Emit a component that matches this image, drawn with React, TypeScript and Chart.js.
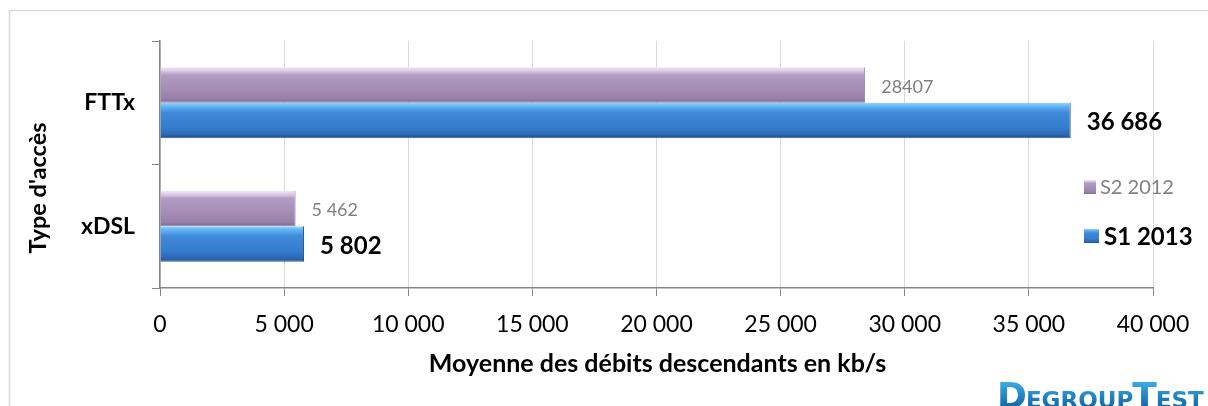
import React, { useEffect, useRef } from "react";
import { Chart, registerables } from "chart.js";

Chart.register(...registerables);

// ---- data ----
const categories = ["FTTx", "xDSL"];
const seriesNames = ["S2 2012", "S1 2013"];
const valuesS2_2012 = [28407, 5462];
const valuesS1_2013 = [36686, 5802];
const labelsS2_2012 = ["28407", "5 462"];
const labelsS1_2013 = ["36 686", "5 802"];
const xMin = 0;
const xMax = 40000;
const xStep = 5000;
const xTitle = "Moyenne des débits descendants en kb/s";
const yTitle = "Type d'accès";
const logoParts = [
  { t: "D", big: true },
  { t: "EGROUP", big: false },
  { t: "T", big: true },
  { t: "EST", big: false },
];

const F = "Lato, 'Open Sans', sans-serif";

const purpleStops: [number, string][] = [
  [0, "#f1e6f6"],
  [0.1, "#dccbe6"],
  [0.22, "#b29cc3"],
  [0.6, "#a58db6"],
  [0.88, "#9880aa"],
  [1, "#7c6890"],
];
const blueStops: [number, string][] = [
  [0, "#92d3ff"],
  [0.1, "#62b4f3"],
  [0.28, "#3f8ad9"],
  [0.7, "#357dce"],
  [0.9, "#2c67b3"],
  [1, "#1f4d86"],
];

function makeGrad(ctx: CanvasRenderingContext2D, top: number, bottom: number, stops: [number, string][]) {
  const g = ctx.createLinearGradient(0, top, 0, bottom);
  stops.forEach(([p, c]) => g.addColorStop(p, c));
  return g;
}

const CAT_PCT = 0.575;

function barFill(stops: [number, string][], di: number) {
  return (c: any) => {
    const chart = c.chart;
    const y = chart.scales?.y;
    if (!y || !chart.chartArea) return stops[2][1];
    const center = y.getPixelForValue(c.dataIndex);
    const catH = y.height / categories.length;
    const barH = (catH * CAT_PCT) / 2;
    const top = di === 0 ? center - barH : center;
    return makeGrad(chart.ctx, top, top + barH, stops);
  };
}

const fmt = (v: number) => String(v).replace(/\B(?=(\d{3})+(?!\d))/g, " ");

export default function App() {
  const ref = useRef<HTMLCanvasElement>(null);

  useEffect(() => {
    const canvas = ref.current!;
    const framePlugin = {
      id: "frame",
      beforeDraw(chart: any) {
        const ctx = chart.ctx;
        ctx.save();
        ctx.fillStyle = "#ffffff";
        ctx.fillRect(0, 0, chart.width, chart.height);
        ctx.strokeStyle = "#d9d9d9";
        ctx.lineWidth = 1.5;
        ctx.beginPath();
        ctx.moveTo(9.5, chart.height + 5);
        ctx.lineTo(9.5, 10.5);
        ctx.lineTo(chart.width + 5, 10.5);
        ctx.stroke();
        ctx.restore();
      },
    };

    const labelPlugin = {
      id: "valueLabels",
      afterDatasetsDraw(chart: any) {
        const ctx = chart.ctx;
        const sets = [labelsS2_2012, labelsS1_2013];
        ctx.save();
        chart.data.datasets.forEach((_: any, di: number) => {
          const meta = chart.getDatasetMeta(di);
          meta.data.forEach((bar: any, i: number) => {
            ctx.font = di === 0 ? `18px ${F}` : `bold 24px ${F}`;
            ctx.fillStyle = di === 0 ? "#808080" : "#000000";
            ctx.textAlign = "left";
            ctx.textBaseline = "middle";
            ctx.fillText(sets[di][i], bar.x + 16, bar.y + 2);
          });
        });
        ctx.restore();
      },
    };

    const overlayPlugin = {
      id: "overlay",
      afterDraw(chart: any) {
        const ctx = chart.ctx;
        const area = chart.chartArea;
        ctx.save();
        // x title
        ctx.fillStyle = "#000";
        ctx.font = `bold 25px ${F}`;
        ctx.textAlign = "center";
        ctx.textBaseline = "middle";
        ctx.fillText(xTitle, (area.left + area.right) / 2 + 1, 364);
        // y title
        ctx.save();
        ctx.translate(38, 188);
        ctx.rotate(-Math.PI / 2);
        ctx.font = `bold 23.5px ${F}`;
        ctx.fillText(yTitle, 0, 0);
        ctx.restore();
        // legend
        const legendItems = [
          { name: seriesNames[0], stops: purpleStops, y: 187, mx: 1084, mw: 12, tx: 1100, font: `20px ${F}`, color: "#808080" },
          { name: seriesNames[1], stops: blueStops, y: 236, mx: 1084, mw: 15, tx: 1104, font: `bold 24px ${F}`, color: "#000" },
        ];
        legendItems.forEach((it) => {
          const top = it.y - 7;
          ctx.fillStyle = makeGrad(ctx, top, top + 14, it.stops);
          ctx.fillRect(it.mx, top, it.mw, 14);
          ctx.font = it.font;
          ctx.fillStyle = it.color;
          ctx.textAlign = "left";
          ctx.textBaseline = "middle";
          ctx.fillText(it.name, it.tx, it.y + 1);
        });
        // logo
        const lg = ctx.createLinearGradient(0, 380, 0, 410);
        lg.addColorStop(0, "#3fb0ea");
        lg.addColorStop(1, "#0b5fa3");
        ctx.fillStyle = lg;
        ctx.textBaseline = "alphabetic";
        ctx.textAlign = "left";
        ctx.save();
        ctx.translate(997, 0);
        let x = 0;
        logoParts.forEach((p) => {
          ctx.font = p.big ? `bold 36px 'DejaVu Sans', sans-serif` : `bold 23px 'DejaVu Sans', sans-serif`;
          ctx.fillText(p.t, x, 408);
          x += ctx.measureText(p.t).width - 1;
        });
        ctx.restore();
        ctx.restore();
      },
    };

    const chart = new Chart(canvas, {
      type: "bar",
      data: {
        labels: categories,
        datasets: [
          {
            label: seriesNames[0],
            data: valuesS2_2012,
            backgroundColor: barFill(purpleStops, 0) as any,
            borderColor: "#8d779e",
            borderWidth: { top: 0, right: 1, bottom: 1, left: 0 } as any,
            borderSkipped: false,
          },
          {
            label: seriesNames[1],
            data: valuesS1_2013,
            backgroundColor: barFill(blueStops, 1) as any,
            borderColor: "#25558f",
            borderWidth: { top: 0, right: 1, bottom: 1, left: 0 } as any,
            borderSkipped: false,
          },
        ],
      },
      options: {
        responsive: false,
        animation: false,
        indexAxis: "y",
        layout: { padding: { top: 41, right: 55, left: 0, bottom: 0 } },
        plugins: { legend: { display: false }, tooltip: { enabled: false } },
        datasets: { bar: { categoryPercentage: CAT_PCT, barPercentage: 1 } },
        scales: {
          x: {
            min: xMin,
            max: xMax,
            ticks: {
              stepSize: xStep,
              callback: (v: any) => fmt(Number(v)),
              font: { family: F, size: 23 },
              color: "#000",
              padding: 15,
            },
            grid: { color: "#d9d9d9", tickColor: "#868686", tickLength: 8, lineWidth: 1 },
            border: { color: "#868686", width: 1.5 },
            afterFit: (s: any) => {
              s.height = 118;
            },
          },
          y: {
            ticks: {
              font: { family: F, size: 23, weight: "bold" },
              color: "#000",
              padding: 17,
            },
            grid: { drawOnChartArea: false, tickColor: "#868686", tickLength: 8, offset: true },
            border: { color: "#868686", width: 1.5 },
            afterFit: (s: any) => {
              s.width = 160;
            },
          },
        },
      } as any,
      plugins: [framePlugin, labelPlugin, overlayPlugin],
    });
    return () => chart.destroy();
  }, []);

  return (
    <div style={{ position: "absolute", left: 0, top: 0, width: 1208, height: 406, background: "#fff" }}>
      <canvas ref={ref} width={1208} height={406} style={{ display: "block", width: 1208, height: 406 }} />
    </div>
  );
}
